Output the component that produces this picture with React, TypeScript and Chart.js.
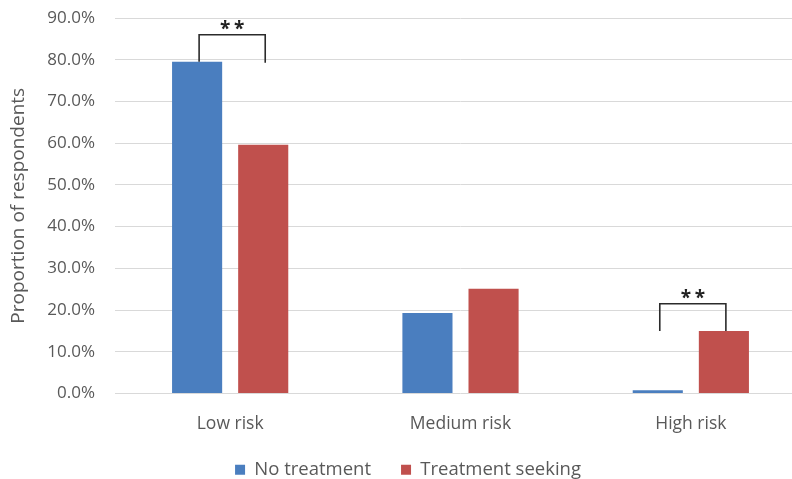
import React, { useEffect, useRef } from "react";
import { Chart, registerables } from "chart.js";

Chart.register(...registerables);

const categories = ["Low risk", "Medium risk", "High risk"];
const seriesNames = ["No treatment", "Treatment seeking"];
const noTreatment = [79.5, 19.3, 0.8];
const treatmentSeeking = [59.6, 25.1, 15.0];
const yMax = 90;
const yStep = 10;
// significance brackets: category index, bracket top value, left/right leg end values
const bracketCategories = [0, 2];
const bracketTops = [86, 21.5];
const bracketLeftEnds = [79.5, 15.0];
const bracketRightEnds = [79.3, 15.0];
const bracketLabels = ["**", "**"];

const FONT = "'Open Sans', 'Noto Sans', sans-serif";
const GREY = "#595959";

const bracketPlugin = {
  id: "brackets",
  afterDatasetsDraw(chart: any) {
    const { ctx } = chart;
    const y = chart.scales.y;
    const m0 = chart.getDatasetMeta(0);
    const m1 = chart.getDatasetMeta(1);
    ctx.save();
    ctx.strokeStyle = "#2b2b2b";
    ctx.lineWidth = 1.6;
    ctx.fillStyle = "#222";
    bracketCategories.forEach((c, i) => {
      const x1 = m0.data[c].x + 2;
      const x2 = m1.data[c].x + 2;
      const yt = y.getPixelForValue(bracketTops[i]);
      const yl = y.getPixelForValue(bracketLeftEnds[i]);
      const yr = y.getPixelForValue(bracketRightEnds[i]);
      ctx.beginPath();
      ctx.moveTo(x1, yl);
      ctx.lineTo(x1, yt);
      ctx.lineTo(x2, yt);
      ctx.lineTo(x2, yr);
      ctx.stroke();
      ctx.font = `bold 19px ${FONT}`;
      ctx.textAlign = "center";
      ctx.textBaseline = "alphabetic";
      const chars = bracketLabels[i].split("");
      const step = 14;
      const cx = (x1 + x2) / 2;
      chars.forEach((ch, k) => {
        const off = (k - (chars.length - 1) / 2) * step;
        ctx.fillText(ch, cx + off, yt + 0);
      });
    });
    ctx.restore();
  },
};

const legendShiftPlugin = {
  id: "legendShift",
  afterLayout(chart: any) {
    const lg = chart.legend;
    if (!lg) return;
    lg.top -= 5;
    lg.bottom -= 5;
    lg.left += 5;
    lg.right += 5;
  },
};

export default function App() {
  const ref = useRef<HTMLCanvasElement | null>(null);
  useEffect(() => {
    if (!ref.current) return;
    const chart = new Chart(ref.current, {
      type: "bar",
      data: {
        labels: categories,
        datasets: [
          {
            label: seriesNames[0],
            data: noTreatment,
            backgroundColor: "#4a7ebf",
            categoryPercentage: 0.574,
            barPercentage: 0.758,
          },
          {
            label: seriesNames[1],
            data: treatmentSeeking,
            backgroundColor: "#c0504d",
            categoryPercentage: 0.574,
            barPercentage: 0.758,
          },
        ],
      },
      options: {
        responsive: false,
        animation: false,
        devicePixelRatio: 1,
        layout: { padding: { left: 0, right: 0, top: 18, bottom: 0 } },
        plugins: {
          tooltip: { enabled: false },
          legend: {
            position: "bottom",
            labels: {
              boxWidth: 10,
              boxHeight: 10,
              padding: 30,
              color: GREY,
              font: { family: FONT, size: 18.5 },
            },
          },
        },
        scales: {
          x: {
            grid: { display: false },
            border: { display: false },
            ticks: { color: GREY, font: { family: FONT, size: 17.5 }, padding: 12 },
            afterFit(scale: any) {
              scale.height = 42;
            },
          },
          y: {
            min: 0,
            max: yMax,
            grid: { color: "#d9d9d9", lineWidth: 1, drawTicks: false },
            border: { display: false },
            ticks: {
              stepSize: yStep,
              color: GREY,
              padding: 20,
              font: { family: FONT, size: 17 },
              callback: (v: any) => Number(v).toFixed(1) + "%",
            },
            title: {
              display: true,
              text: "Proportion of respondents",
              color: GREY,
              font: { family: FONT, size: 19 },
              padding: { top: 7, bottom: 0 },
            },
            afterFit(scale: any) {
              scale.width = 115;
              scale.paddingTop = 0;
              scale.paddingBottom = 0;
            },
          },
        },
      },
      plugins: [bracketPlugin, legendShiftPlugin],
    });
    return () => chart.destroy();
  }, []);
  return (
    <div
      style={{
        position: "fixed",
        left: 0,
        top: 0,
        width: 792,
        height: 479,
        overflow: "hidden",
        background: "#fff",
      }}
    >
      <canvas ref={ref} width={806} height={494} style={{ display: "block" }} />
    </div>
  );
}
